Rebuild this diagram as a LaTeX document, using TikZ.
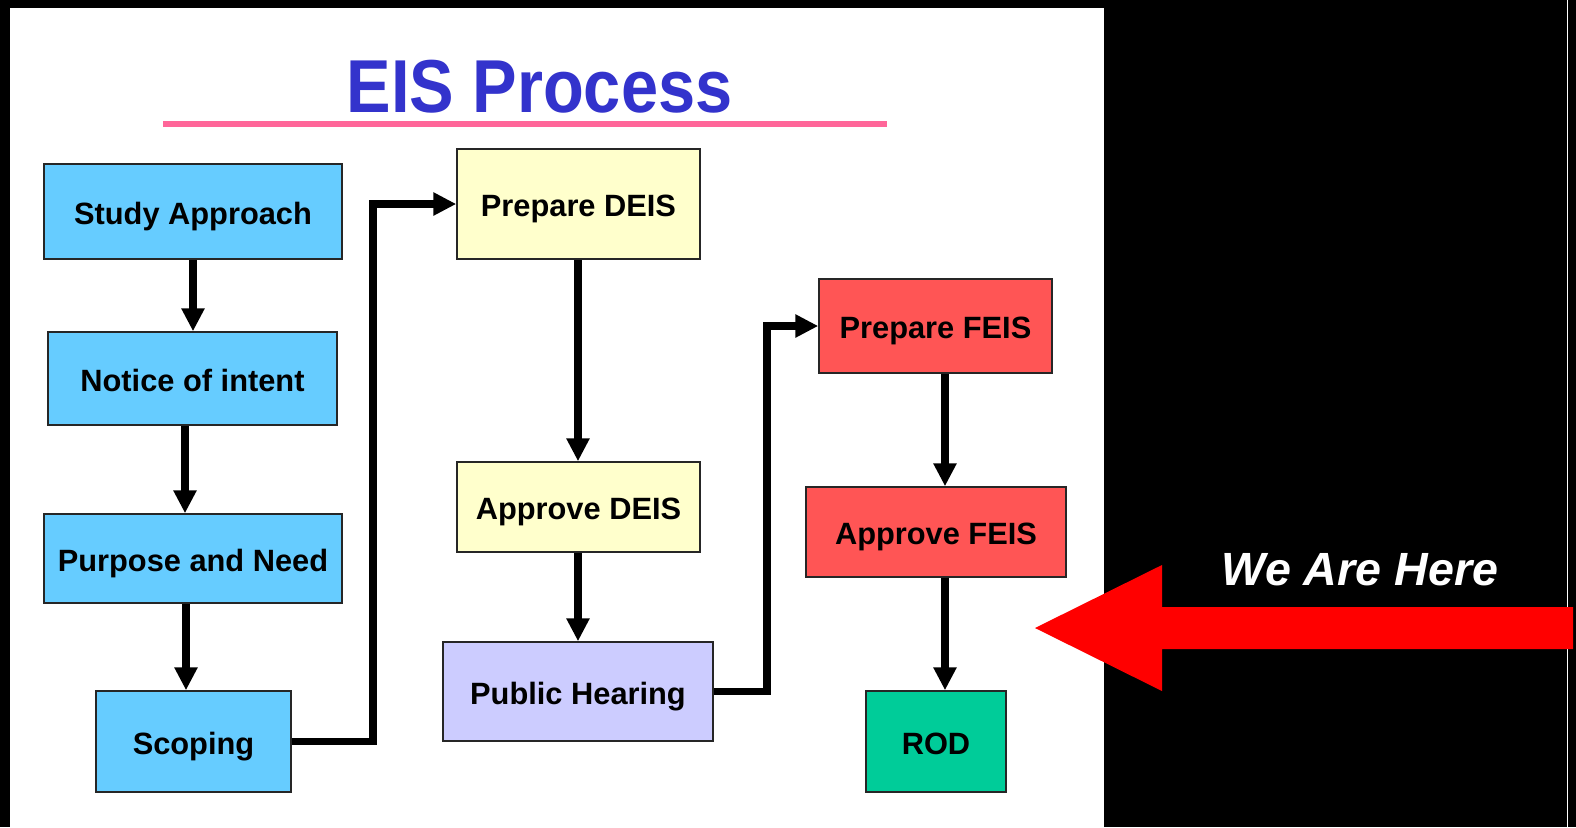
\documentclass[tikz,border=0pt]{standalone}
\usepackage{fontspec}
\setmainfont{Liberation Sans}
\usetikzlibrary{arrows.meta}
\definecolor{boxblue}{HTML}{66CCFF}
\definecolor{boxyellow}{HTML}{FFFFCC}
\definecolor{boxlav}{HTML}{CCCCFF}
\definecolor{boxred}{HTML}{FF5555}
\definecolor{boxgreen}{HTML}{00CC99}
\definecolor{titleblue}{HTML}{3333CC}
\definecolor{pinkline}{HTML}{FF6699}
\begin{document}
\begin{tikzpicture}[x=0.5pt,y=-0.5pt,
  stepbox/.style={draw=black!85, line width=0.75pt, inner sep=0pt,
    text height=12.5pt, text depth=0pt,
    font=\fontsize{15.4}{18}\selectfont\bfseries},
  conn/.style={line width=3.6pt, -{Triangle[length=11.5pt,width=11pt]}}]
\useasboundingbox (0,0) rectangle (1576,827);
\fill[black] (0,0) rectangle (1576,827);
\fill[white] (10,8) rectangle (1104,827);
\fill[white] (1566.5,0) rectangle (1568,827);
% title
\node[anchor=base, text=titleblue, inner sep=0pt,
  font=\fontsize{37.5}{40}\selectfont\bfseries] (title) at (539.5,112) {\scalebox{0.89}[1]{EIS Process}};
\fill[pinkline] (163,121) rectangle (887,127);
% boxes
\node[stepbox, fill=boxblue, minimum width=149pt, minimum height=47.5pt] (sa) at (193,211.5) {Study Approach};
\node[stepbox, fill=boxblue, minimum width=144.5pt, minimum height=46.5pt] (ni) at (192.5,378.5) {Notice of intent};
\node[stepbox, fill=boxblue, minimum width=149pt, minimum height=44.5pt] (pn) at (193,558.5) {Purpose and Need};
\node[stepbox, fill=boxblue, minimum width=97.5pt, minimum height=50.5pt] (sc) at (193.5,741.5) {Scoping};
\node[stepbox, fill=boxyellow, minimum width=121.5pt, minimum height=55pt] (pd) at (578.5,204) {Prepare DEIS};
\node[stepbox, fill=boxyellow, minimum width=121.5pt, minimum height=45pt] (ad) at (578.5,507) {Approve DEIS};
\node[stepbox, fill=boxlav, minimum width=135pt, minimum height=49.5pt] (ph) at (578,691.5) {Public Hearing};
\node[stepbox, fill=boxred, minimum width=116.5pt, minimum height=47pt] (pf) at (935.5,326) {Prepare FEIS};
\node[stepbox, fill=boxred, minimum width=130pt, minimum height=45pt] (af) at (936,532) {Approve FEIS};
\node[stepbox, fill=boxgreen, minimum width=70pt, minimum height=50.5pt] (rod) at (936,741.5) {ROD};
% connectors
\draw[conn] (193,0 |- sa.south) -- (193,0 |- ni.north);
\draw[conn] (185,0 |- ni.south) -- (185,0 |- pn.north);
\draw[conn] (186,0 |- pn.south) -- (186,0 |- sc.north);
\draw[conn] (sc.east) -- (sc.east -| 373,0) |- (pd.west);
\draw[conn] (578,0 |- pd.south) -- (578,0 |- ad.north);
\draw[conn] (578,0 |- ad.south) -- (578,0 |- ph.north);
\draw[conn] (ph.east) -- (ph.east -| 767,0) |- (pf.west);
\draw[conn] (945,0 |- pf.south) -- (945,0 |- af.north);
\draw[conn] (945,0 |- af.south) -- (945,0 |- rod.north);
% we are here arrow
\fill[red] (1035,628) -- (1162,565) -- (1162,607) -- (1573,607) -- (1573,649)
  -- (1162,649) -- (1162,691) -- cycle;
\node[anchor=base, text=white, inner sep=0pt,
  font=\fontsize{23.3}{26}\selectfont\bfseries\itshape] (here) at (1360,585) {We Are Here};
\end{tikzpicture}
\end{document}
